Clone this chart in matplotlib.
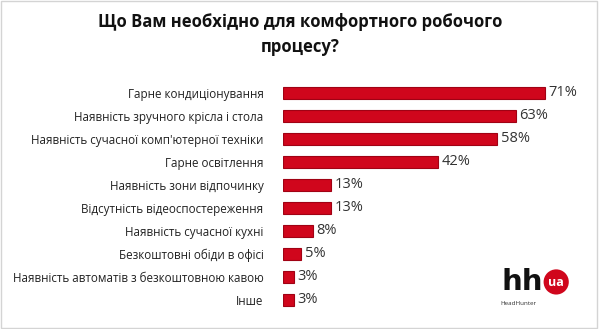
import matplotlib
matplotlib.use('Agg')
import matplotlib.pyplot as plt
from matplotlib.patches import Ellipse, Rectangle

plt.rcParams['font.family'] = ['Open Sans', 'DejaVu Sans']

title = 'Що Вам необхідно для комфортного робочого\nпроцесу?'
labels = ['Гарне кондиціонування',
          'Наявність зручного крісла і стола',
          "Наявність сучасної комп'ютерної техніки",
          'Гарне освітлення',
          'Наявність зони відпочинку',
          'Відсутність відеоспостереження',
          'Наявність сучасної кухні',
          'Безкоштовні обіди в офісі',
          'Наявність автоматів з безкоштовною кавою',
          'Інше']
values = [71, 63, 58, 42, 13, 13, 8, 5, 3, 3]

W, H = 6.0, 3.29
fig = plt.figure(figsize=(W, H), dpi=100)
fig.patch.set_facecolor('white')

# light frame around the picture
fig.patches.append(Rectangle((0.002, 0.003), 0.993, 0.994, transform=fig.transFigure,
                             fill=False, edgecolor='#d4d4d4', lw=1.0))

ax = fig.add_axes([0.4717, 0.0532, 0.523, 0.6991])
ypos = list(range(len(values)))
ax.barh(ypos, values, height=0.5, color='#d0061c', edgecolor='#a00214', linewidth=0.8)
ax.set_xlim(0, 85)
ax.set_ylim(len(values) - 0.5, -0.5)
ax.set_yticks(ypos)
ax.set_yticklabels(labels, fontsize=8.4, color='#222222')
ax.tick_params(axis='y', length=0, pad=14)
ax.set_xticks([])
for s in ax.spines.values():
    s.set_visible(False)

for y, v in zip(ypos, values):
    ax.text(v + 1.0, y, f'{v}%', va='center', ha='left', fontsize=10.5, color='#333333')

fig.text(0.5, 0.895, title, ha='center', va='center', fontsize=12, fontweight='bold',
         color='#111111', linespacing=1.45)

# HeadHunter logo
fig.text(0.835, 0.12, 'hh', ha='left', va='baseline', fontsize=21, fontweight='bold',
         color='#111111', family=['DejaVu Sans'])
r = 0.021
fig.patches.append(Ellipse((0.927, 0.143), 2 * r, 2 * r * W / H, transform=fig.transFigure,
                           facecolor='#d0061c', edgecolor='none'))
fig.text(0.927, 0.140, 'ua', ha='center', va='center', fontsize=9, color='white',
         fontweight='bold')
fig.text(0.834, 0.078, 'HeadHunter', ha='left', va='center', fontsize=4.5, color='#333333')

fig.savefig('out.png', dpi=100, facecolor='white')
